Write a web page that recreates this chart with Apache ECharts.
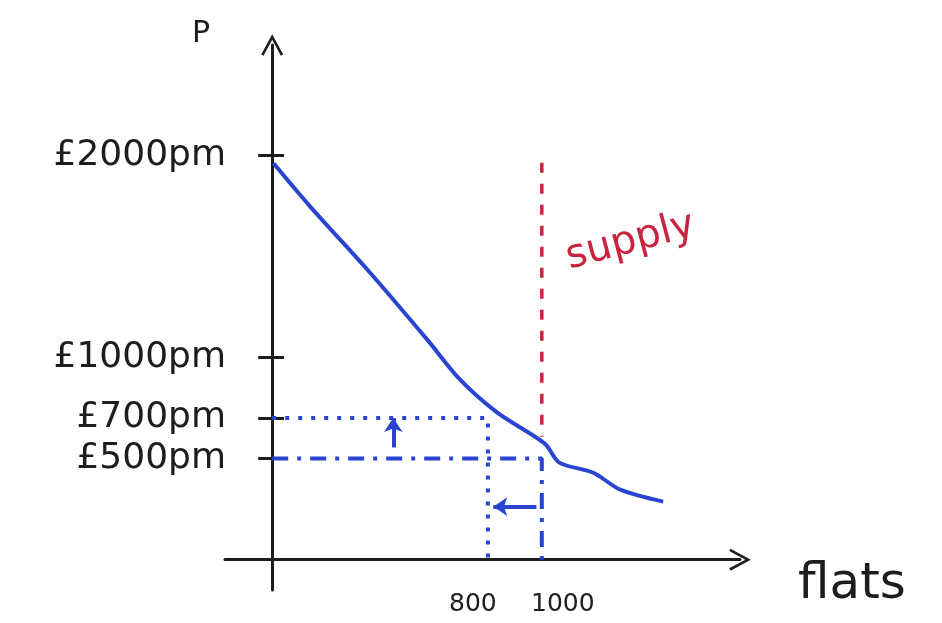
<!DOCTYPE html>
<html>
<head>
<meta charset="utf-8">
<script src="https://cdn.jsdelivr.net/npm/echarts@6/dist/echarts.min.js"></script>
<style>html,body{margin:0;padding:0;background:#fff;}#c{width:942px;height:623px;}</style>
</head>
<body>
<div id="c"></div>
<script>
// ---- data ----
var priceTicks = [2000, 1000, 700, 500];
var qtyTicks = [800, 1000];
var demandQ = [5, 141, 363, 575, 697, 835, 1010, 1065, 1191, 1291, 1450];
var demandP = [1960, 1746, 1419, 1088, 890, 727, 575, 480, 430, 346, 287];
var oldPrice = 700, newPrice = 500;
var oldQty = 800, newQty = 1000;
var supplyQ = [1000, 1000];
var supplyP = [1963, 608];
var upArrowQ = 449, upArrowFrom = 555, upArrowTo = 700;
var leftArrowP = 262;

var chart = echarts.init(document.getElementById('c'));
var blue = '#2a44d2', red = '#c8243f', ink = '#1d1d1d';
var chevron = 'path://M0,0 L12,22 L9.5,23.5 L0,6 L-9.5,23.5 L-12,22 Z';
var hand = 'DejaVu Sans';

function pairs(xs, ys) { return xs.map(function (x, i) { return [x, ys[i]]; }); }

chart.setOption({
  animation: false,
  grid: [
    { left: 225, right: 202, top: 45, bottom: 33, outerBoundsMode: 'none', containLabel: false },
    { left: 272, right: 202, top: 45, bottom: 33, outerBoundsMode: 'none', containLabel: false }
  ],
  xAxis: [{
    type: 'value', min: -175, max: 1735,
    splitLine: { show: false },
    axisLine: { onZero: true, symbol: ['none', chevron], symbolSize: [22, 22], lineStyle: { color: ink, width: 3 } },
    axisTick: { show: false },
    axisLabel: { customValues: qtyTicks, margin: 2, fontFamily: hand, fontSize: 22, color: ink, hideOverlap: false,
      formatter: function (v) { return v === 800 ? '{a|' + v + '}' : '{b|' + v + '}'; },
      rich: {
        a: { fontFamily: hand, fontSize: 25, color: ink, padding: [0, 30, 0, 0] },
        b: { fontFamily: hand, fontSize: 25, color: ink, padding: [0, 0, 0, 42] }
      } },
    name: 'flats', nameLocation: 'end', nameGap: 58,
    nameTextStyle: { fontFamily: hand, fontSize: 50, color: ink, verticalAlign: 'top', padding: [0, 0, 0, 0] }
  }, {
    gridIndex: 1, type: 'value', min: 0, max: 1735,
    splitLine: { show: false },
    axisLine: { show: false, onZero: false },
    axisTick: { show: false },
    axisLabel: { show: false }
  }],
  yAxis: [{
    type: 'value', min: -150, max: 2545,
    splitLine: { show: false },
    axisLine: { onZero: true, symbol: ['none', chevron], symbolSize: [22, 22], lineStyle: { color: ink, width: 3 } },
    axisTick: { customValues: priceTicks, length: 14, lineStyle: { color: ink, width: 3 } },
    axisLabel: { customValues: priceTicks, margin: -1, fontFamily: hand, fontSize: 36, color: ink, hideOverlap: false,
      formatter: function (v) { return '£' + v + 'pm'; } },
    name: 'P', nameLocation: 'end', nameGap: -4,
    nameTextStyle: { fontFamily: hand, fontSize: 30, color: ink, align: 'right', padding: [0, 62, 0, 0] }
  }, {
    gridIndex: 1, type: 'value', min: -150, max: 2545, position: 'left',
    splitLine: { show: false },
    axisLine: { show: true, onZero: false, lineStyle: { color: 'rgba(0,0,0,0)', width: 1 } },
    axisTick: { show: true, customValues: priceTicks, inside: true, length: 12, lineStyle: { color: ink, width: 3 } },
    axisLabel: { show: true, customValues: priceTicks, color: 'rgba(0,0,0,0)', formatter: function () { return ''; } }
  }],
  series: [
    { type: 'line', data: pairs(demandQ, demandP), smooth: 0.3, showSymbol: false,
      lineStyle: { color: blue, width: 4 } },
    { type: 'line', data: [[0, oldPrice], [oldQty, oldPrice], [oldQty, 0]], showSymbol: false,
      lineStyle: { color: blue, width: 4, type: [4, 9] } },
    { type: 'line', data: [[0, newPrice], [newQty, newPrice], [newQty, 0]], showSymbol: false,
      lineStyle: { color: blue, width: 4, type: [16, 9, 4, 9] } },
    { type: 'line', data: pairs(supplyQ, supplyP), showSymbol: false,
      lineStyle: { color: red, width: 3.5, type: [10, 11] } },
    { type: 'line', data: [], markLine: {
        silent: true, symbol: ['none', 'arrow'], symbolSize: 14, label: { show: false },
        lineStyle: { color: blue, width: 4, type: 'solid' },
        data: [
          [{ coord: [upArrowQ, upArrowFrom] }, { coord: [upArrowQ, upArrowTo] }],
          [{ coord: [newQty - 20, leftArrowP] }, { coord: [oldQty + 20, leftArrowP] }]
        ] } }
  ],
  graphic: [{
    type: 'text', x: 572, y: 278, rotation: 0.26,
    style: { text: 'supply', fontFamily: hand, fontSize: 40, fill: red, textVerticalAlign: 'bottom' }
  }]
});
</script>
</body>
</html>
